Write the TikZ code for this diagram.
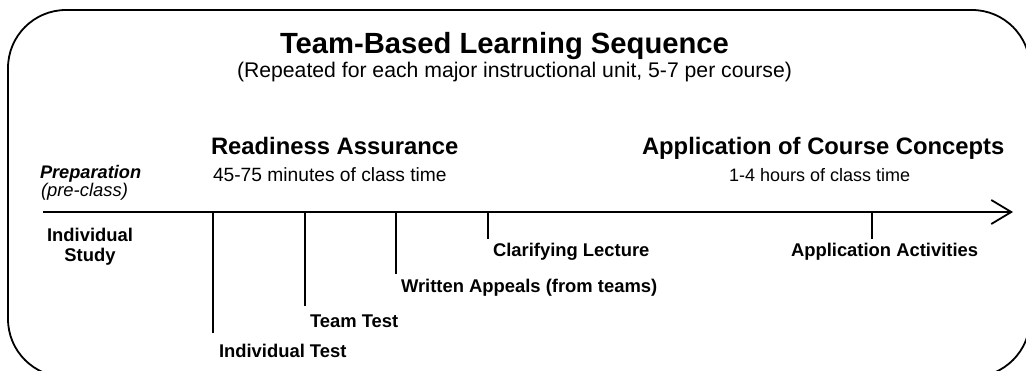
\documentclass[tikz,border=0pt]{standalone}
\usepackage{fontspec}
\setmainfont{Liberation Sans}
\usetikzlibrary{arrows.meta}
\begin{document}
\begin{tikzpicture}[x=1pt,y=-1pt,
  txt/.style={anchor=base west,inner sep=0pt,outer sep=0pt,text=black},
  lbl/.style={txt,font=\fontsize{18.4}{22}\selectfont\bfseries},
  tick/.style={draw=black,line width=1.7pt},
  frame/.style={draw=black,line width=1.8pt,rounded corners=58pt}]
\useasboundingbox (0,0) rectangle (1026,371);
% frame
\draw[frame] (8,10) rectangle (1030,377);
% titles
\node[txt,font=\fontsize{29.2}{34}\selectfont\bfseries] (title) at (280,54) {Team-Based Learning Sequence};
\node[txt,font=\fontsize{21.2}{25}\selectfont] (subtitle) at (237,78) {(Repeated for each major instructional unit, 5-7 per course)};
\node[txt,font=\fontsize{23.8}{28}\selectfont\bfseries] (ra) at (211,155) {Readiness Assurance};
\node[txt,font=\fontsize{19.2}{23}\selectfont] (ratime) at (213,182) {45-75 minutes of class time};
\node[txt,font=\fontsize{23.8}{28}\selectfont\bfseries] (app) at (642,155) {Application of Course Concepts};
\node[txt,font=\fontsize{18}{22}\selectfont] (apptime) at (729,182) {1-4 hours of class time};
\node[txt,font=\fontsize{18.2}{22}\selectfont\bfseries\itshape] (prep) at (40,179) {Preparation};
\node[txt,font=\fontsize{18.4}{22}\selectfont\itshape] (precl) at (41,197) {(pre-class)};
\node[inner sep=0pt,anchor=base,align=center,font=\fontsize{18.4}{20.5}\selectfont\bfseries] (study) at (90,262) {Individual\\Study};
% axis
\coordinate (axisL) at (43,212);
\coordinate (axisR) at (1013,212);
\draw[line width=1.8pt,-{Straight Barb[length=20pt,width=24pt,line width=1.8pt]}] (axisL) -- (axisR);
% ticks
\coordinate (t1) at (213,212); \coordinate (t1e) at (213,333);
\coordinate (t2) at (305,212); \coordinate (t2e) at (305,306);
\coordinate (t3) at (396,212); \coordinate (t3e) at (396,274);
\coordinate (t4) at (488,212); \coordinate (t4e) at (488,239);
\coordinate (t5) at (872,212); \coordinate (t5e) at (872,239);
\draw[tick] (t1) -- (t1e);
\draw[tick] (t2) -- (t2e);
\draw[tick] (t3) -- (t3e);
\draw[tick] (t4) -- (t4e);
\draw[tick] (t5) -- (t5e);
% labels
\node[lbl] (itest) at (219,358) {Individual Test};
\node[lbl] (ttest) at (310,328) {Team Test};
\node[lbl] (appeals) at (401,293) {Written Appeals (from teams)};
\node[lbl] (lecture) at (493,257) {Clarifying Lecture};
\node[lbl] (activities) at (791,257) {Application Activities};
\end{tikzpicture}
\end{document}
